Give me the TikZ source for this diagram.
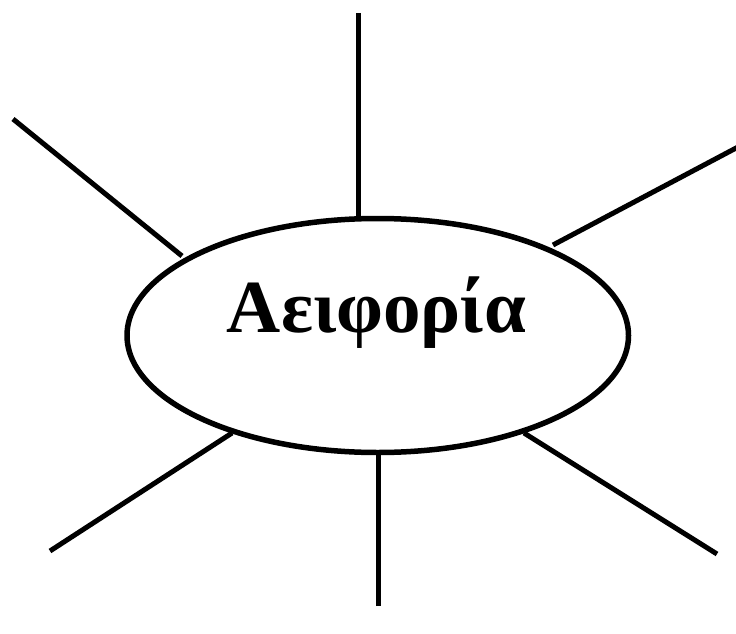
\documentclass[tikz,border=0pt]{standalone}
\usepackage{fontspec}
\setmainfont{Liberation Serif}
\usetikzlibrary{shapes.geometric}
\begin{document}
\begin{tikzpicture}[x=1pt,y=-1pt,
  ray/.style={line width=5pt},
  hub/.style={draw,ellipse,line width=5.5pt,minimum width=501.5pt,minimum height=234pt,inner sep=0pt},
  title/.style={inner sep=0pt,anchor=base,font=\bfseries\fontsize{75}{80}\selectfont}]
\useasboundingbox (0,0) rectangle (736,634);
\node[hub] (e) at (377.75,335.5) {};
\node[title] (lbl) at (376.5,332) {Αειφορία};
\coordinate (t1) at (358,13);   \coordinate (t1e) at (358,218);
\coordinate (t2) at (13,119);   \coordinate (t2e) at (182,256);
\coordinate (t3) at (738,147);  \coordinate (t3e) at (553,245);
\coordinate (t4) at (50,551);   \coordinate (t4e) at (232,433);
\coordinate (t5) at (378,606);  \coordinate (t5e) at (378,452);
\coordinate (t6) at (717,554);  \coordinate (t6e) at (524,433);
\foreach \i in {1,...,6} {\draw[ray] (t\i) -- (t\i e);}
\end{tikzpicture}
\end{document}
